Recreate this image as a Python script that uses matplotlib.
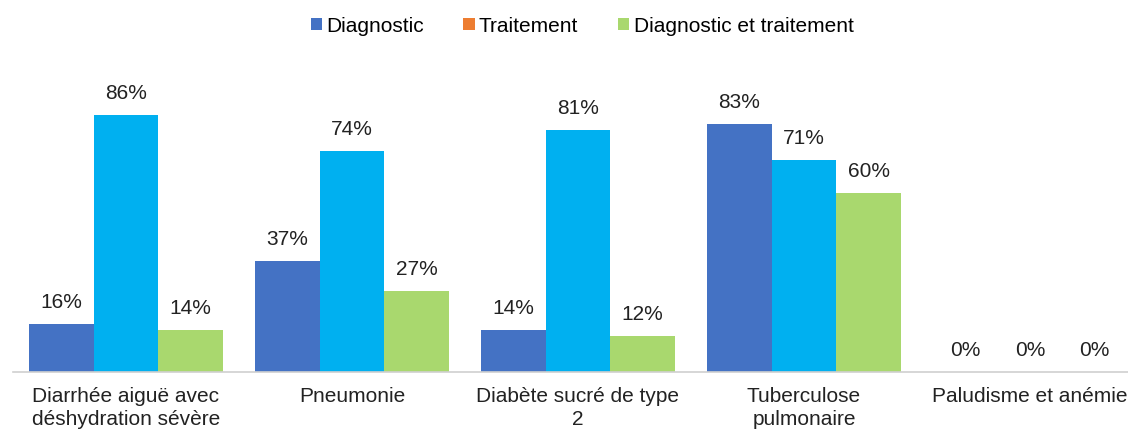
import matplotlib
matplotlib.use("Agg")
import matplotlib.pyplot as plt
import numpy as np
from matplotlib.patches import Patch

categories = ["Diarrhée aiguë avec\ndéshydration sévère", "Pneumonie",
              "Diabète sucré de type\n2", "Tuberculose\npulmonaire",
              "Paludisme et anémie"]
series_names = ["Diagnostic", "Traitement", "Diagnostic et traitement"]
diagnostic = [16, 37, 14, 83, 0]
traitement = [86, 74, 81, 71, 0]
diag_trait = [14, 27, 12, 60, 0]

bar_colors = ["#4472C4", "#00B0F0", "#A9D86E"]
legend_colors = ["#4472C4", "#ED7D31", "#A9D86E"]

plt.rcParams['font.family'] = ['Liberation Sans', 'DejaVu Sans']

fig = plt.figure(figsize=(11.28, 4.32), dpi=100)
W, H = 1128, 432
left_px, right_px = 13, 1143
base_px, top_px = 372, 372 - 299
ax = fig.add_axes([left_px / W, 1 - base_px / H, (right_px - left_px) / W, (base_px - top_px) / H])

x = np.arange(len(categories))
bw = 0.2865
data = [diagnostic, traitement, diag_trait]
for i, (vals, c) in enumerate(zip(data, bar_colors)):
    pos = x + (i - 1) * bw
    ax.bar(pos, vals, width=bw, color=c, zorder=2)
    for p, v in zip(pos, vals):
        ax.text(p, v + 4, f"{v}%", ha="center", va="bottom", fontsize=15, color="#222222")

ax.set_xlim(-0.5, len(categories) - 0.5)
ax.set_ylim(0, 100)
ax.set_yticks([])
ax.set_xticks(x)
ax.set_xticklabels(categories, fontsize=15, color="#222222", linespacing=1.25)
ax.tick_params(axis="x", length=0, pad=11)
for s in ["top", "right", "left"]:
    ax.spines[s].set_visible(False)
ax.spines["bottom"].set_color("#D0D0D0")
ax.spines["bottom"].set_linewidth(1.2)

handles = [Patch(facecolor=c, label=n) for c, n in zip(legend_colors, series_names)]
fig.legend(handles=handles, loc="center", bbox_to_anchor=(582 / W, 1 - 26 / H), ncol=3,
           frameon=False, fontsize=15, handlelength=0.55, handleheight=0.55,
           handletextpad=0.2, columnspacing=1.9)

fig.savefig("out.png", dpi=100)
